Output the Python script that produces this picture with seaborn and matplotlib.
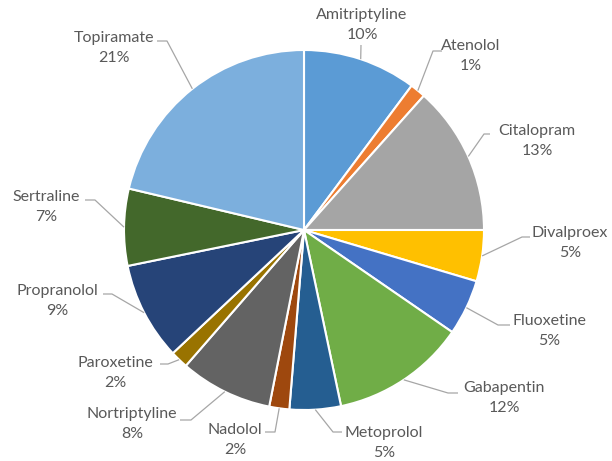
import numpy as np
import matplotlib
matplotlib.use("Agg")
import matplotlib.pyplot as plt
import seaborn as sns

# Share of prescriptions by drug (percent)
drugs = ["Amitriptyline", "Atenolol", "Citalopram", "Divalproex", "Fluoxetine",
         "Gabapentin", "Metoprolol", "Nadolol", "Nortriptyline", "Paroxetine",
         "Propranolol", "Sertraline", "Topiramate"]
shares = [10.2, 1.4, 13.4, 4.6, 5.0, 12.1, 4.6, 1.8, 8.3, 1.6, 8.8, 6.9, 21.3]
colors = ["#5B9BD5", "#ED7D31", "#A5A5A5", "#FFC000", "#4472C4", "#70AD47",
          "#255E91", "#9E480E", "#636363", "#997300", "#264478", "#43682B",
          "#7CAFDD"]

# Label placement (pixel coords, y downward) and leader-line stubs
label_pos = [(362, 25), (471, 56), (537, 141), (570, 243), (549, 331),
             (504, 398), (384, 443), (235, 440), (132, 424), (115, 373),
             (57, 301), (46, 207), (114, 48)]
stubs = [[(361, 45)], [(442, 51), (433, 51)], [(490, 134), (484, 134)],
         [(530, 237), (522, 237)], [(510, 325), (498, 325)],
         [(458, 393), (448, 393)], [(342, 432), (333, 432)],
         [(265, 432), (275, 432)], [(180, 420), (191, 420)],
         [(160, 364), (168, 364)], [(103, 294), (112, 294)],
         [(85, 200), (95, 200)], [(157, 41), (167, 41)]]

W, H = 612, 461
CX, CY, R = 304, 230, 180

sns.set_theme(style="white")
plt.rcParams["font.family"] = ["Lato", "DejaVu Sans"]

fig = plt.figure(figsize=(W / 100, H / 100), dpi=100)
ax = fig.add_axes([0, 0, 1, 1])

ax.pie(shares, colors=colors, startangle=90, counterclock=False,
       center=(CX, H - CY), radius=R,
       wedgeprops=dict(edgecolor="white", linewidth=1.5), frame=True)
ax.set_xlim(0, W)
ax.set_ylim(0, H)
ax.set_aspect("equal")
ax.axis("off")

total = sum(shares)
cum = np.cumsum([0] + shares[:-1])
for i, (name, val) in enumerate(zip(drugs, shares)):
    mid = (cum[i] + val / 2) / total * 2 * np.pi
    ex = CX + R * np.sin(mid)
    ey = CY - R * np.cos(mid)
    pts = stubs[i] + [(ex, ey)]
    xs = [p[0] for p in pts]
    ys = [H - p[1] for p in pts]
    ax.plot(xs, ys, color="#A6A6A6", lw=0.9, solid_capstyle="butt", zorder=1)
    tx, ty = label_pos[i]
    ax.text(tx, H - ty, f"{name}\n{val / total * 100:.0f}%", ha="center",
            va="center", fontsize=11.5, color="#595959", linespacing=1.6)

fig.savefig("out.png", dpi=100, facecolor="white")
